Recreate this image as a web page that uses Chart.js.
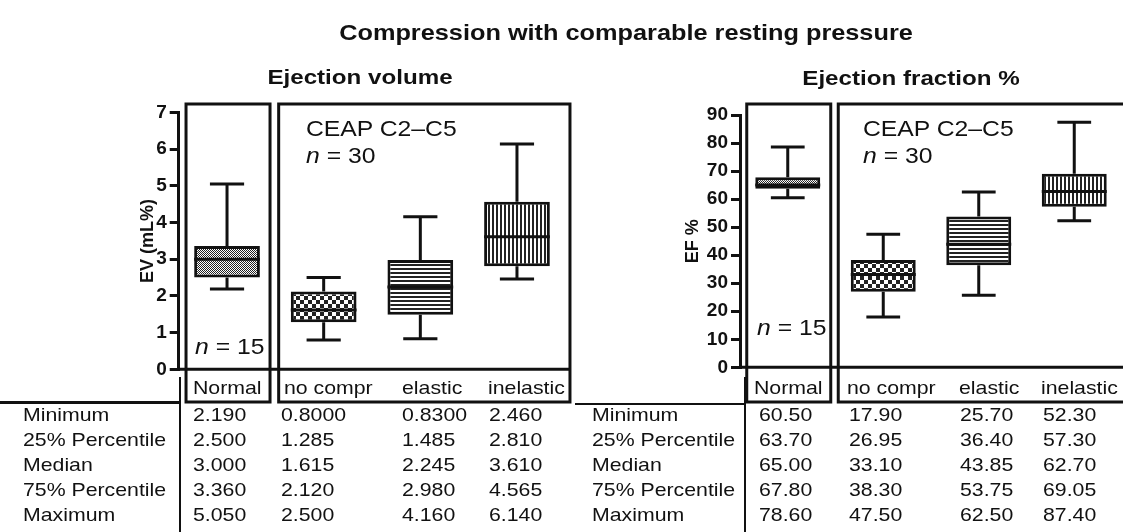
<!DOCTYPE html>
<html>
<head>
<meta charset="utf-8">
<script src="https://cdn.jsdelivr.net/npm/chart.js@4.4.1/dist/chart.umd.min.js"></script>
<style>
  html, body { margin: 0; padding: 0; background: #fff; }
  body { width: 1123px; height: 532px; position: relative; overflow: hidden; font-family: "Liberation Sans", Arial, sans-serif; color: #111; }
  .chartBox { position: absolute; top: 0; height: 532px; }
  .txt { position: absolute; white-space: nowrap; line-height: 1; transform-origin: 0 50%; transform: translateY(-50%) scaleX(1.15); }
  .mid { transform-origin: 50% 50%; transform: translate(-50%, -50%) scaleX(1.15); }
  .bold { font-weight: bold; }
  .rule { position: absolute; background: #111; }
</style>
</head>
<body>
<div class="chartBox" style="left:0;width:576px"><canvas id="evChart"></canvas></div>
<div class="chartBox" style="left:576px;width:547px"><canvas id="efChart"></canvas></div>

<div class="txt mid bold" style="left:626px;top:33px;font-size:22px">Compression with comparable resting pressure</div>
<div class="txt mid bold" style="left:360px;top:76px;font-size:21px">Ejection volume</div>
<div class="txt mid bold" style="left:911px;top:77px;font-size:21px">Ejection fraction %</div>

<div class="txt" style="left:306px;top:130px;font-size:21.5px">CEAP C2–C5</div>
<div class="txt" style="left:306px;top:157px;font-size:21.5px"><i>n</i> = 30</div>
<div class="txt" style="left:195px;top:348px;font-size:21.5px"><i>n</i> = 15</div>
<div class="txt" style="left:863px;top:130px;font-size:21.5px">CEAP C2–C5</div>
<div class="txt" style="left:863px;top:157px;font-size:21.5px"><i>n</i> = 30</div>
<div class="txt" style="left:757px;top:329px;font-size:21.5px"><i>n</i> = 15</div>

<div class="rule" style="left:0;top:401px;width:181px;height:3px"></div>
<div class="rule" style="left:179px;top:377px;width:2px;height:155px"></div>
<div class="rule" style="left:575px;top:403px;width:171px;height:2px"></div>
<div class="rule" style="left:744px;top:377px;width:2px;height:155px"></div>
<div id="tables"></div>

<script>
const groups = ['Normal', 'no compr', 'elastic', 'inelastic'];
const rowLabels = ['Minimum', '25% Percentile', 'Median', '75% Percentile', 'Maximum'];

// Ejection volume (mL%)
const evMin = [2.19, 0.80, 0.83, 2.46];
const evQ1 = [2.50, 1.285, 1.485, 2.81];
const evMedian = [3.00, 1.615, 2.245, 3.61];
const evQ3 = [3.36, 2.12, 2.98, 4.565];
const evMax = [5.05, 2.50, 4.16, 6.14];
const evTicks = [0, 1, 2, 3, 4, 5, 6, 7];

// Ejection fraction %
const efMin = [60.5, 17.9, 25.7, 52.3];
const efQ1 = [63.7, 26.95, 36.4, 57.3];
const efMedian = [65.0, 33.1, 43.85, 62.7];
const efQ3 = [67.8, 38.3, 53.75, 69.05];
const efMax = [78.6, 47.5, 62.5, 87.4];
const efTicks = [0, 10, 20, 30, 40, 50, 60, 70, 80, 90];

const ink = '#111';
const fontFamily = "'Liberation Sans', Arial, sans-serif";

function makePattern(kind) {
    const c = document.createElement('canvas');
    const g = c.getContext('2d');
    c.width = kind === 'fine' ? 2 : 8;
    c.height = kind === 'fine' ? 2 : 8;
    g.fillStyle = '#fff';
    g.fillRect(0, 0, c.width, c.height);
    g.fillStyle = '#222';
    if (kind === 'fine') {
        g.fillRect(0, 0, 1, 1);
        g.fillRect(1, 1, 1, 1);
    } else if (kind === 'checker') {
        g.fillRect(0, 0, 4, 4);
        g.fillRect(4, 4, 4, 4);
    } else if (kind === 'hstripe') {
        g.fillRect(0, 0, 8, 2);
        g.fillRect(0, 4, 8, 2);
    } else if (kind === 'vstripe') {
        g.fillRect(0, 0, 2, 8);
        g.fillRect(4, 0, 2, 8);
    }
    return g.createPattern(c, 'repeat');
}

const fills = [makePattern('fine'), makePattern('checker'), makePattern('hstripe'), makePattern('vstripe')];

// whiskers, medians, framing boxes and the baseline
function whiskerPlugin(mins, medians, maxs) {
    return {
        id: 'whiskers',
        afterDatasetsDraw(chart) {
            const ctx = chart.ctx;
            const y = chart.scales.y;
            const x = chart.scales.x;
            const meta = chart.getDatasetMeta(0);
            ctx.save();
            ctx.strokeStyle = ink;
            ctx.lineWidth = 3;
            meta.data.forEach((bar, i) => {
                const half = bar.width / 2;
                const cap = bar.width * 0.26;
                const top = Math.min(bar.y, bar.base);
                const bottom = Math.max(bar.y, bar.base);
                const yMed = y.getPixelForValue(medians[i]);
                const yMax = y.getPixelForValue(maxs[i]);
                const yMin = y.getPixelForValue(mins[i]);
                ctx.beginPath();
                ctx.moveTo(bar.x - half, yMed);
                ctx.lineTo(bar.x + half, yMed);
                ctx.moveTo(bar.x, top);
                ctx.lineTo(bar.x, yMax);
                ctx.moveTo(bar.x - cap, yMax);
                ctx.lineTo(bar.x + cap, yMax);
                ctx.moveTo(bar.x, bottom);
                ctx.lineTo(bar.x, yMin);
                ctx.moveTo(bar.x - cap, yMin);
                ctx.lineTo(bar.x + cap, yMin);
                ctx.stroke();
            });

            const c0 = x.getPixelForValue(0);
            const c1 = x.getPixelForValue(1);
            const c3 = x.getPixelForValue(3);
            const frameTop = 104;
            const frameBottom = 402;
            ctx.strokeRect(c0 - 41, frameTop, 84, frameBottom - frameTop);
            ctx.strokeRect(c1 - 45, frameTop, c3 + 53 - (c1 - 45), frameBottom - frameTop);

            const y0 = y.getPixelForValue(0);
            ctx.beginPath();
            ctx.moveTo(chart.chartArea.left, y0);
            ctx.lineTo(c3 + 53, y0);
            ctx.stroke();
            ctx.restore();
        }
    };
}

function drawBoxChart(canvasId, q1, q3, mins, medians, maxs, ticks, title, padding, axisWidth) {
    const ctx = document.getElementById(canvasId).getContext('2d');
    new Chart(ctx, {
        type: 'bar',
        data: {
            labels: groups,
            datasets: [{
                data: groups.map((g, i) => [q1[i], q3[i]]),
                backgroundColor: fills,
                borderColor: ink,
                borderWidth: 3,
                borderSkipped: false,
                categoryPercentage: 1,
                barPercentage: 0.68
            }]
        },
        options: {
            responsive: true,
            maintainAspectRatio: false,
            animation: false,
            layout: { padding: padding },
            plugins: {
                legend: { display: false },
                tooltip: { enabled: false }
            },
            scales: {
                x: { display: false, offset: true },
                y: {
                    min: ticks[0],
                    max: ticks[ticks.length - 1],
                    afterBuildTicks(scale) {
                        scale.ticks = ticks.map(v => ({ value: v }));
                    },
                    afterFit(scale) {
                        scale.width = axisWidth;
                    },
                    ticks: {
                        color: ink,
                        padding: 3,
                        font: { family: fontFamily, size: 19, weight: 'bold' }
                    },
                    grid: {
                        display: true,
                        drawOnChartArea: false,
                        drawTicks: true,
                        tickLength: 9,
                        color: ink,
                        lineWidth: 3
                    },
                    border: { display: true, color: ink, width: 3 },
                    title: {
                        display: true,
                        text: title,
                        color: ink,
                        padding: { top: 4, bottom: 0 },
                        font: { family: fontFamily, size: 18, weight: 'bold' }
                    }
                }
            }
        },
        plugins: [whiskerPlugin(mins, medians, maxs)]
    });
}

drawBoxChart('evChart', evQ1, evQ3, evMin, evMedian, evMax, evTicks, 'EV (mL%)',
    { left: 133, right: 10.7, top: 112.5, bottom: 162.7 }, 45.7);
drawBoxChart('efChart', efQ1, efQ3, efMin, efMedian, efMax, efTicks, 'EF %',
    { left: 102, right: 1, top: 115, bottom: 164.7 }, 62);

// summary tables under each panel
function buildTable(labelX, colX, headX, columns) {
    const holder = document.getElementById('tables');
    const rowY = [415, 440, 465, 490, 515];
    const put = (text, left, top) => {
        const d = document.createElement('div');
        d.className = 'txt';
        d.style.left = left + 'px';
        d.style.top = top + 'px';
        d.style.fontSize = '18.5px';
        d.textContent = text;
        holder.appendChild(d);
    };
    groups.forEach((g, j) => put(g, headX[j], 388));
    rowLabels.forEach((label, r) => {
        put(label, labelX, rowY[r]);
        columns[r].forEach((v, j) => put(v.toPrecision(4), colX[j], rowY[r]));
    });
}

buildTable(23, [193, 281, 402, 489], [193, 284, 402, 488], [evMin, evQ1, evMedian, evQ3, evMax]);
buildTable(592, [759, 849, 960, 1043], [754, 847, 959, 1041], [efMin, efQ1, efMedian, efQ3, efMax]);
</script>
</body>
</html>
